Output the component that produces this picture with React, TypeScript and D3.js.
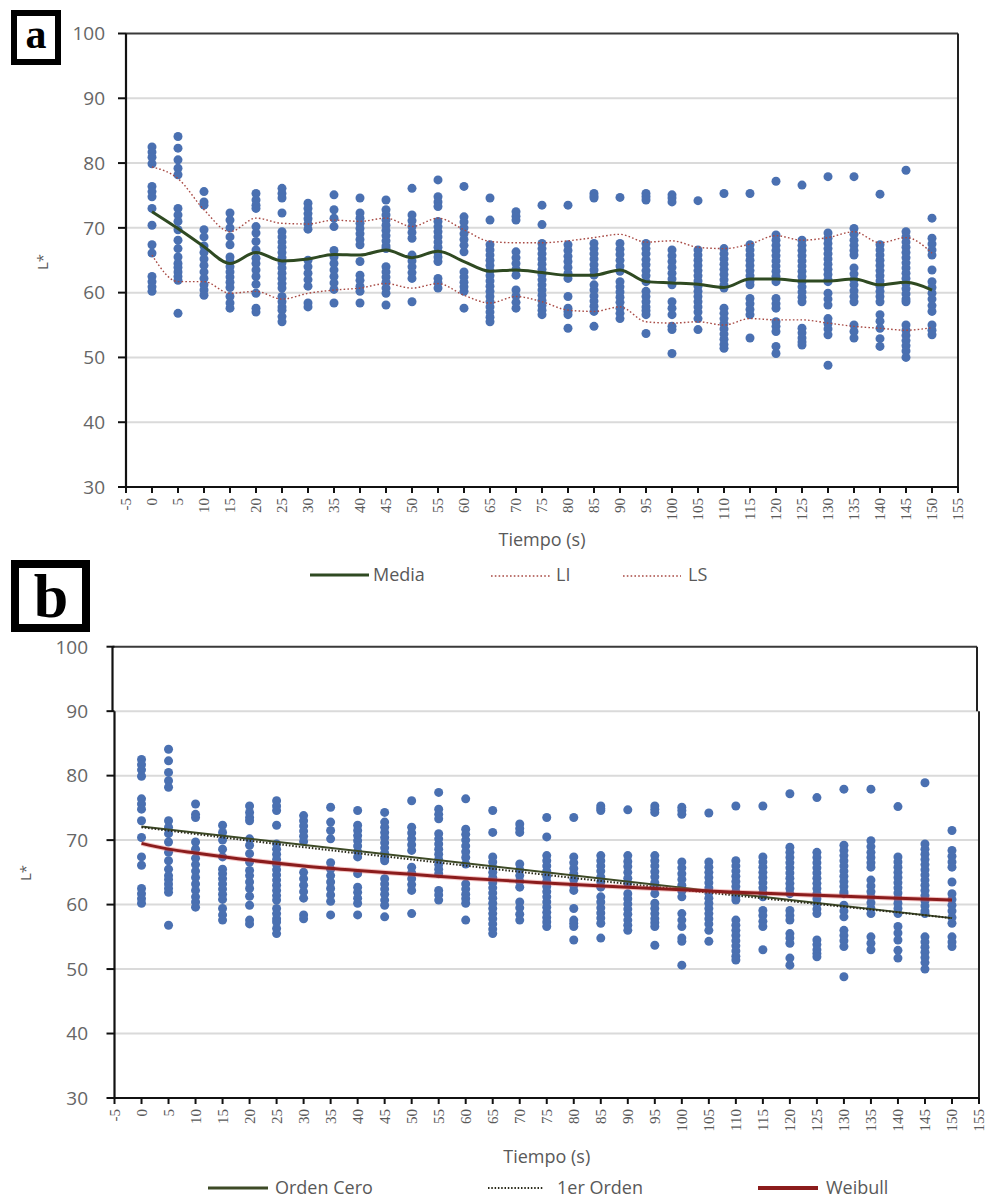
import React from "react";
import * as d3 from "d3";

// Sampling times (s)
const times = [0, 5, 10, 15, 20, 25, 30, 35, 40, 45, 50, 55, 60, 65, 70, 75, 80, 85, 90, 95, 100, 105, 110, 115, 120, 125, 130, 135, 140, 145, 150];

// Individual L* readings for every sampling time
const observations: number[][] = [
  [82.5, 81.7, 80.9, 79.9, 76.4, 75.6, 74.8, 73.0, 70.4, 67.4, 66.1, 62.5, 61.7, 60.9, 60.2],
  [84.1, 82.3, 80.5, 79.2, 78.2, 73.0, 72.0, 71.0, 69.7, 68.1, 66.8, 65.5, 64.5, 63.9, 63.2, 62.5, 61.9, 56.8],
  [75.6, 74.0, 73.5, 69.7, 68.6, 67.2, 66.2, 65.2, 64.2, 63.2, 62.2, 61.2, 60.4, 59.6],
  [72.3, 71.2, 70.0, 68.6, 67.4, 65.5, 64.8, 64.0, 63.2, 62.4, 61.6, 60.8, 59.4, 58.4, 57.6],
  [75.3, 74.3, 73.5, 73.0, 70.2, 69.2, 67.9, 66.6, 65.3, 64.5, 63.5, 62.5, 61.3, 59.9, 57.6, 57.0],
  [76.1, 75.3, 74.6, 72.3, 69.4, 68.6, 67.8, 67.0, 66.2, 65.4, 64.6, 63.8, 63.0, 62.2, 61.4, 60.7, 59.4, 58.6, 57.8, 57.3, 56.3, 55.5],
  [73.8, 73.0, 72.2, 71.4, 70.6, 69.8, 65.0, 64.0, 63.0, 62.0, 61.0, 58.4, 57.8],
  [75.1, 72.8, 71.5, 70.2, 66.5, 65.5, 64.5, 63.5, 62.5, 61.5, 60.5, 58.4],
  [74.6, 72.3, 71.5, 70.7, 69.9, 69.1, 68.2, 67.4, 64.8, 62.7, 61.9, 61.0, 60.2, 58.4],
  [74.3, 72.8, 72.0, 71.2, 70.4, 69.6, 68.8, 68.0, 67.2, 66.8, 64.0, 63.2, 62.4, 61.6, 60.7, 59.9, 58.1],
  [76.1, 72.0, 71.1, 70.2, 69.3, 68.4, 65.8, 64.9, 64.0, 63.1, 62.2, 58.6],
  [77.4, 74.8, 74.0, 73.3, 71.0, 70.2, 69.4, 68.6, 67.8, 67.0, 66.2, 65.5, 64.8, 62.2, 61.5, 60.7],
  [76.4, 71.7, 70.9, 70.0, 69.1, 68.2, 67.3, 66.3, 63.2, 62.4, 61.6, 60.9, 60.2, 57.6],
  [74.6, 71.2, 67.4, 66.6, 65.8, 65.0, 64.2, 63.4, 62.6, 61.8, 61.0, 60.2, 59.4, 58.6, 57.8, 57.0, 56.2, 55.5],
  [72.5, 71.8, 71.2, 66.3, 65.4, 64.5, 63.6, 62.7, 60.4, 59.5, 58.5, 57.6],
  [73.5, 70.5, 67.6, 66.8, 66.0, 65.2, 64.4, 63.6, 62.8, 62.0, 61.2, 60.4, 59.6, 58.8, 58.0, 57.3, 56.6],
  [73.5, 67.4, 66.5, 65.6, 64.8, 63.9, 63.0, 62.2, 59.4, 57.6, 57.1, 56.6, 54.5],
  [75.3, 74.9, 74.6, 67.6, 66.8, 66.0, 65.2, 64.3, 63.5, 62.7, 61.2, 60.4, 59.5, 58.7, 57.9, 57.1, 54.8],
  [74.7, 67.6, 66.7, 65.9, 65.0, 64.1, 63.3, 61.7, 60.9, 60.1, 59.3, 58.5, 57.6, 56.8, 56.0],
  [75.3, 74.8, 74.3, 67.6, 66.8, 66.0, 65.1, 64.3, 63.4, 62.6, 61.7, 60.2, 59.4, 58.6, 57.8, 57.2, 56.6, 53.7],
  [75.1, 74.6, 74.0, 66.6, 65.7, 64.8, 63.9, 63.0, 62.1, 61.2, 58.6, 57.6, 56.6, 54.8, 54.3, 50.6],
  [74.2, 66.6, 65.8, 65.0, 64.2, 63.4, 62.6, 61.8, 61.0, 60.2, 59.4, 58.6, 57.8, 57.0, 56.0, 54.3],
  [75.3, 66.8, 66.0, 65.2, 64.4, 63.6, 62.8, 62.0, 61.2, 60.7, 57.6, 56.8, 56.0, 55.2, 54.4, 53.6, 52.8, 52.0, 51.4],
  [75.3, 67.4, 66.6, 65.8, 65.0, 64.2, 63.4, 62.6, 61.8, 61.2, 59.1, 58.3, 57.4, 56.6, 53.0],
  [77.2, 68.9, 68.1, 67.3, 66.5, 65.7, 64.9, 64.1, 63.3, 62.5, 61.7, 59.1, 58.3, 57.6, 55.5, 54.8, 54.0, 51.7, 50.6],
  [76.6, 68.1, 67.3, 66.5, 65.7, 64.9, 64.1, 63.3, 62.5, 61.7, 60.9, 60.1, 59.3, 58.6, 54.5, 53.8, 53.0, 52.4, 51.9],
  [77.9, 69.2, 68.4, 67.6, 66.8, 66.0, 65.2, 64.4, 63.6, 62.8, 62.0, 61.7, 59.9, 59.0, 58.1, 56.0, 55.2, 54.4, 53.5, 48.8],
  [77.9, 69.9, 69.0, 68.1, 67.3, 66.5, 65.8, 63.8, 62.9, 62.0, 61.2, 60.3, 59.4, 58.6, 55.0, 54.0, 53.0],
  [75.2, 67.4, 66.6, 65.8, 65.0, 64.2, 63.4, 62.6, 61.8, 61.0, 60.2, 59.4, 58.6, 56.6, 55.6, 54.5, 52.9, 51.7],
  [78.9, 69.4, 68.6, 67.8, 67.0, 66.2, 65.4, 64.6, 63.8, 63.0, 62.2, 61.4, 60.6, 59.8, 59.0, 58.6, 55.0, 54.2, 53.4, 52.6, 51.8, 51.0, 50.0],
  [71.5, 68.4, 67.5, 66.6, 65.8, 63.5, 61.7, 60.8, 59.9, 59.0, 58.0, 57.1, 55.0, 54.2, 53.5],
];

// Mean and lower / upper limits per sampling time
const media = [72.5, 69.9, 67.1, 64.5, 66.2, 64.9, 65.2, 65.9, 65.8, 66.6, 65.4, 66.4, 64.8, 63.3, 63.5, 63.1, 62.7, 62.7, 63.5, 61.7, 61.5, 61.3, 60.8, 62.1, 62.1, 61.8, 61.8, 62.1, 61.2, 61.6, 60.4];
const limInf = [65.8, 61.7, 61.7, 59.9, 60.2, 59.0, 59.9, 60.4, 60.7, 61.4, 60.7, 61.4, 59.6, 58.4, 59.4, 58.6, 57.3, 57.1, 57.8, 55.5, 55.3, 55.5, 55.0, 56.0, 55.8, 55.8, 55.3, 54.8, 54.5, 54.2, 54.6];
const limSup = [79.4, 77.6, 72.8, 69.4, 71.5, 70.7, 70.6, 71.2, 71.0, 71.5, 70.2, 71.5, 69.7, 67.9, 67.7, 67.7, 68.0, 68.5, 69.0, 67.8, 68.0, 67.0, 66.8, 67.5, 68.8, 68.1, 68.5, 69.4, 67.7, 68.5, 66.1];

// Kinetic model curves
const ordenCeroT = [0, 150];
const ordenCeroL = [72.1, 57.9];
const primerOrdenT = [0, 25, 50, 75, 100, 125, 150];
const primerOrdenL = [72.0, 69.4, 67.0, 64.6, 62.3, 60.1, 57.9];
const weibullT = [0, 5, 10, 20, 30, 40, 50, 60, 70, 80, 90, 100, 110, 120, 130, 140, 150];
const weibullL = [69.5, 68.6, 68.0, 66.9, 66.0, 65.3, 64.7, 64.1, 63.6, 63.1, 62.7, 62.3, 61.9, 61.6, 61.3, 61.0, 60.7];

// Axis ticks
const xTicks = [-5, 0, 5, 10, 15, 20, 25, 30, 35, 40, 45, 50, 55, 60, 65, 70, 75, 80, 85, 90, 95, 100, 105, 110, 115, 120, 125, 130, 135, 140, 145, 150, 155];
const yTicks = [30, 40, 50, 60, 70, 80, 90, 100];

const SANS = "'Open Sans', 'Liberation Sans', sans-serif";
const TICKFONT = "'Liberation Serif', serif";
const GRAY = "#595959";
const DOT = "#4a70b1";

type Geo = { x0: number; x1: number; yTop: number; yBot: number; yLabelRight: number; jog?: boolean };

function Frame({ g, children }: { g: Geo; children?: React.ReactNode }) {
  const x = d3.scaleLinear().domain([-5, 155]).range([g.x0, g.x1]);
  const y = d3.scaleLinear().domain([30, 100]).range([g.yBot, g.yTop]);
  return (
    <g>
      {yTicks.filter((v) => v > 30 && v < 100).map((v) => (
        <line key={"g" + v} x1={g.x0} x2={g.x1} y1={y(v)} y2={y(v)} stroke="#dadada" strokeWidth={2} />
      ))}
      {/* top border */}
      <line x1={g.jog ? g.x0 - 2 : g.x0} x2={g.jog ? g.x1 - 2 : g.x1} y1={g.yTop} y2={g.yTop} stroke="#3a3a3a" strokeWidth={2} />
      {/* right border */}
      {g.jog ? (
        <>
          <line x1={g.x1 - 2} x2={g.x1 - 2} y1={g.yTop} y2={y(90)} stroke="#222" strokeWidth={2} />
          <line x1={g.x1} x2={g.x1} y1={y(90)} y2={g.yBot} stroke="#222" strokeWidth={2} />
        </>
      ) : (
        <line x1={g.x1} x2={g.x1} y1={g.yTop} y2={g.yBot} stroke="#222" strokeWidth={2} />
      )}
      {/* left axis */}
      {g.jog ? (
        <>
          <line x1={g.x0 - 2} x2={g.x0 - 2} y1={g.yTop} y2={y(90)} stroke="#111" strokeWidth={2.2} />
          <line x1={g.x0} x2={g.x0} y1={y(90)} y2={g.yBot} stroke="#111" strokeWidth={2.2} />
        </>
      ) : (
        <line x1={g.x0} x2={g.x0} y1={g.yTop} y2={g.yBot} stroke="#111" strokeWidth={2.2} />
      )}
      {/* bottom axis */}
      <line x1={g.x0 - 7} x2={g.x1} y1={g.yBot} y2={g.yBot} stroke="#111" strokeWidth={2.2} />
      {yTicks.map((v) => (
        <g key={"y" + v}>
          <line x1={g.x0 - 8} x2={g.x0} y1={y(v)} y2={y(v)} stroke="#111" strokeWidth={2} />
          <text x={g.yLabelRight} y={y(v)} dy="0.36em" textAnchor="end" fontFamily={SANS} fontSize={19} fill="#666">
            {v}
          </text>
        </g>
      ))}
      {xTicks.map((v) => (
        <g key={"x" + v}>
          <line x1={x(v)} x2={x(v)} y1={g.yBot} y2={g.yBot + 6} stroke="#111" strokeWidth={2} />
          <text
            transform={`translate(${x(v)},${g.yBot + 11}) rotate(-90)`}
            textAnchor="end"
            dy="0.35em"
            fontFamily={TICKFONT}
            fontSize={15}
            fill={GRAY}
          >
            {v}
          </text>
        </g>
      ))}
      {observations.map((col, i) =>
        col.map((v, j) => <circle key={`d${i}-${j}`} cx={x(times[i])} cy={y(v)} r={4.5} fill={DOT} />)
      )}
      {children}
    </g>
  );
}

function PanelA() {
  const g: Geo = { x0: 126, x1: 958, yTop: 33.5, yBot: 487, yLabelRight: 105 };
  const x = d3.scaleLinear().domain([-5, 155]).range([g.x0, g.x1]);
  const y = d3.scaleLinear().domain([30, 100]).range([g.yBot, g.yTop]);
  const line = d3
    .line<number>()
    .x((_, i) => x(times[i]))
    .y((v) => y(v))
    .curve(d3.curveMonotoneX);
  return (
    <g>
      <Frame g={g}>
        <path d={line(limSup) || ""} fill="none" stroke="#a84a44" strokeWidth={1.4} strokeDasharray="1.6 2.2" />
        <path d={line(limInf) || ""} fill="none" stroke="#a84a44" strokeWidth={1.4} strokeDasharray="1.6 2.2" />
        <path d={line(media) || ""} fill="none" stroke="#2f4a22" strokeWidth={3} />
      </Frame>
      <text transform="translate(48,262) rotate(-90)" textAnchor="middle" fontFamily={SANS} fontSize={15} fill={GRAY}>
        L*
      </text>
      <text x={(g.x0 + g.x1) / 2} y={546} textAnchor="middle" fontFamily={SANS} fontSize={18} fill={GRAY}>
        Tiempo (s)
      </text>
      {/* legend */}
      <line x1={310} x2={369} y1={575} y2={575} stroke="#2f4a22" strokeWidth={3} />
      <text x={373} y={581} fontFamily={SANS} fontSize={18} fill={GRAY}>Media</text>
      <line x1={491} x2={550} y1={576} y2={576} stroke="#a84a44" strokeWidth={1.4} strokeDasharray="1.6 2.2" />
      <text x={556} y={581} fontFamily={SANS} fontSize={18} fill={GRAY}>LI</text>
      <line x1={623} x2={681} y1={576} y2={576} stroke="#a84a44" strokeWidth={1.4} strokeDasharray="1.6 2.2" />
      <text x={688} y={581} fontFamily={SANS} fontSize={18} fill={GRAY}>LS</text>
      {/* panel tag */}
      <rect x={14} y={13} width={44} height={49} fill="#fff" stroke="#000" strokeWidth={6} />
      <text x={36} y={48} textAnchor="middle" fontFamily="'Liberation Serif', serif" fontWeight="bold" fontSize={42} fill="#000">
        a
      </text>
    </g>
  );
}

function PanelB() {
  const g: Geo = { x0: 114.5, x1: 979, yTop: 646.7, yBot: 1098, yLabelRight: 88, jog: true };
  const x = d3.scaleLinear().domain([-5, 155]).range([g.x0, g.x1]);
  const y = d3.scaleLinear().domain([30, 100]).range([g.yBot, g.yTop]);
  const mk = (ts: number[]) =>
    d3
      .line<number>()
      .x((_, i) => x(ts[i]))
      .y((v) => y(v))
      .curve(d3.curveMonotoneX);
  return (
    <g>
      <Frame g={g}>
        <path d={mk(ordenCeroT)(ordenCeroL) || ""} fill="none" stroke="#3d4a26" strokeWidth={2} />
        <path d={mk(primerOrdenT)(primerOrdenL) || ""} fill="none" stroke="#2a2a1a" strokeWidth={2} strokeDasharray="1.5 1.8" />
        <path d={mk(weibullT)(weibullL) || ""} fill="none" stroke="#e05050" strokeOpacity={0.35} strokeWidth={5} />
        <path d={mk(weibullT)(weibullL) || ""} fill="none" stroke="#8b1c1c" strokeWidth={3} />
      </Frame>
      <text transform="translate(31,873) rotate(-90)" textAnchor="middle" fontFamily={SANS} fontSize={15} fill={GRAY}>
        L*
      </text>
      <text x={(g.x0 + g.x1) / 2} y={1163} textAnchor="middle" fontFamily={SANS} fontSize={18} fill={GRAY}>
        Tiempo (s)
      </text>
      {/* legend */}
      <line x1={208} x2={268} y1={1188} y2={1188} stroke="#3d4a26" strokeWidth={3} />
      <text x={275} y={1194} fontFamily={SANS} fontSize={18} fill={GRAY}>Orden Cero</text>
      <line x1={488} x2={543} y1={1188} y2={1188} stroke="#2a2a1a" strokeWidth={2} strokeDasharray="1.5 1.8" />
      <text x={557} y={1194} fontFamily={SANS} fontSize={18} fill={GRAY}>1er Orden</text>
      <line x1={758} x2={818} y1={1188} y2={1188} stroke="#8b1c1c" strokeWidth={4} />
      <text x={826} y={1194} fontFamily={SANS} fontSize={18} fill={GRAY}>Weibull</text>
      {/* panel tag */}
      <rect x={15} y={564} width={71} height={64} fill="#fff" stroke="#000" strokeWidth={8} />
      <text x={51} y={617} textAnchor="middle" fontFamily="'Liberation Serif', serif" fontWeight="bold" fontSize={62} fill="#000">
        b
      </text>
    </g>
  );
}

export default function App() {
  return (
    <svg
      width={993}
      height={1199}
      viewBox="0 0 993 1199"
      style={{ position: "absolute", left: 0, top: 0, background: "#fff", display: "block" }}
    >
      <rect x={0} y={0} width={993} height={1199} fill="#fff" />
      <PanelA />
      <PanelB />
    </svg>
  );
}
